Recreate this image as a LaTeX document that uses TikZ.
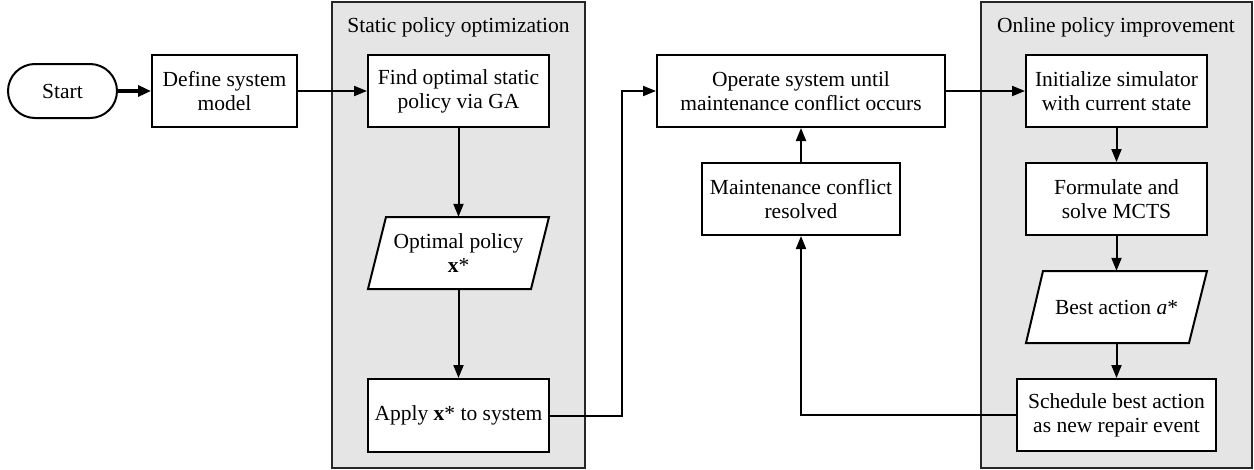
\documentclass[tikz,border=0pt]{standalone}
\usepackage{fontspec}
\setmainfont{Liberation Serif}
\usetikzlibrary{arrows.meta,calc}
\begin{document}
\begin{tikzpicture}[x=1pt,y=-1pt,
  every node/.style={font=\fontsize{21.5}{24}\selectfont},
  box/.style={draw, line width=2pt, fill=white, minimum height=72pt, align=center, inner sep=2pt},
  iobox/.style={draw, line width=2pt, fill=white},
  label/.style={inner sep=0pt, align=center},
  panel/.style={draw=black!85, fill=gray!20, line width=1.6pt},
  flow/.style={-{Triangle[length=13pt,width=10pt]}, line width=2pt},
  thickflow/.style={-{Triangle[length=13pt,width=11pt]}, line width=3.4pt}]
\useasboundingbox (0,0) rectangle (1254,469);

% grouping panels
\draw[panel] (332,2) rectangle (585,468);
\draw[panel] (981,2) rectangle (1252,468);
\node (t1) at (458.5,27) {Static policy optimization};
\node (t2) at (1116,27) {Online policy improvement};

% terminal and process boxes
\node[draw, line width=2pt, fill=white, rounded corners=27pt, minimum width=109pt, minimum height=54pt] (start) at (62.5,91) {Start};
\node[box, minimum width=145pt] (define) at (224.5,91) {Define system\\model};
\node[box, minimum width=181pt] (find) at (458.5,91) {Find optimal static\\policy via GA};
\node[box, minimum width=181pt, minimum height=73pt] (apply) at (458.5,415.5) {Apply \textbf{x}* to system};
\node[box, minimum width=288pt] (operate) at (801,91) {Operate system until\\maintenance conflict occurs};
\node[box, minimum width=198pt] (resolved) at (801,199) {Maintenance conflict\\resolved};
\node[box, minimum width=181pt] (init) at (1116.5,91) {Initialize simulator\\with current state};
\node[box, minimum width=181pt] (form) at (1116.5,199) {Formulate and\\solve MCTS};
\node[box, minimum width=199pt] (sched) at (1116.5,415) {Schedule best action\\as new repair event};

% data (parallelogram) boxes
\coordinate (optc) at (458.5,253);
\draw[iobox] ($(optc)+(-72.5,-36)$) -- ($(optc)+(90.5,-36)$) -- ($(optc)+(72.5,36)$) -- ($(optc)+(-90.5,36)$) -- cycle;
\node[label, minimum width=181pt, minimum height=72pt] (opt) at (optc) {Optimal policy\\\textbf{x}*};

\coordinate (bestc) at (1116.5,307);
\draw[iobox] ($(bestc)+(-73.5,-36)$) -- ($(bestc)+(90.5,-36)$) -- ($(bestc)+(72.5,36)$) -- ($(bestc)+(-90.5,36)$) -- cycle;
\node[label, minimum width=181pt, minimum height=72pt] (best) at (bestc) {Best action \textit{a}*};

% connectors
\draw[thickflow] (start.east) -- (define.west);
\draw[flow] (define.east) -- (find.west);
\draw[flow] (find.south) -- (opt.north);
\draw[flow] (opt.south) -- (apply.north);
\draw[flow] (apply.east) -- ++(72,0) |- (operate.west);
\draw[flow] (operate.east) -- (init.west);
\draw[flow] (init.south) -- (form.north);
\draw[flow] (form.south) -- (best.north);
\draw[flow] (best.south) -- (sched.north);
\draw[flow] (sched.west) -| (resolved.south);
\draw[flow] (resolved.north) -- (operate.south);
\end{tikzpicture}
\end{document}
